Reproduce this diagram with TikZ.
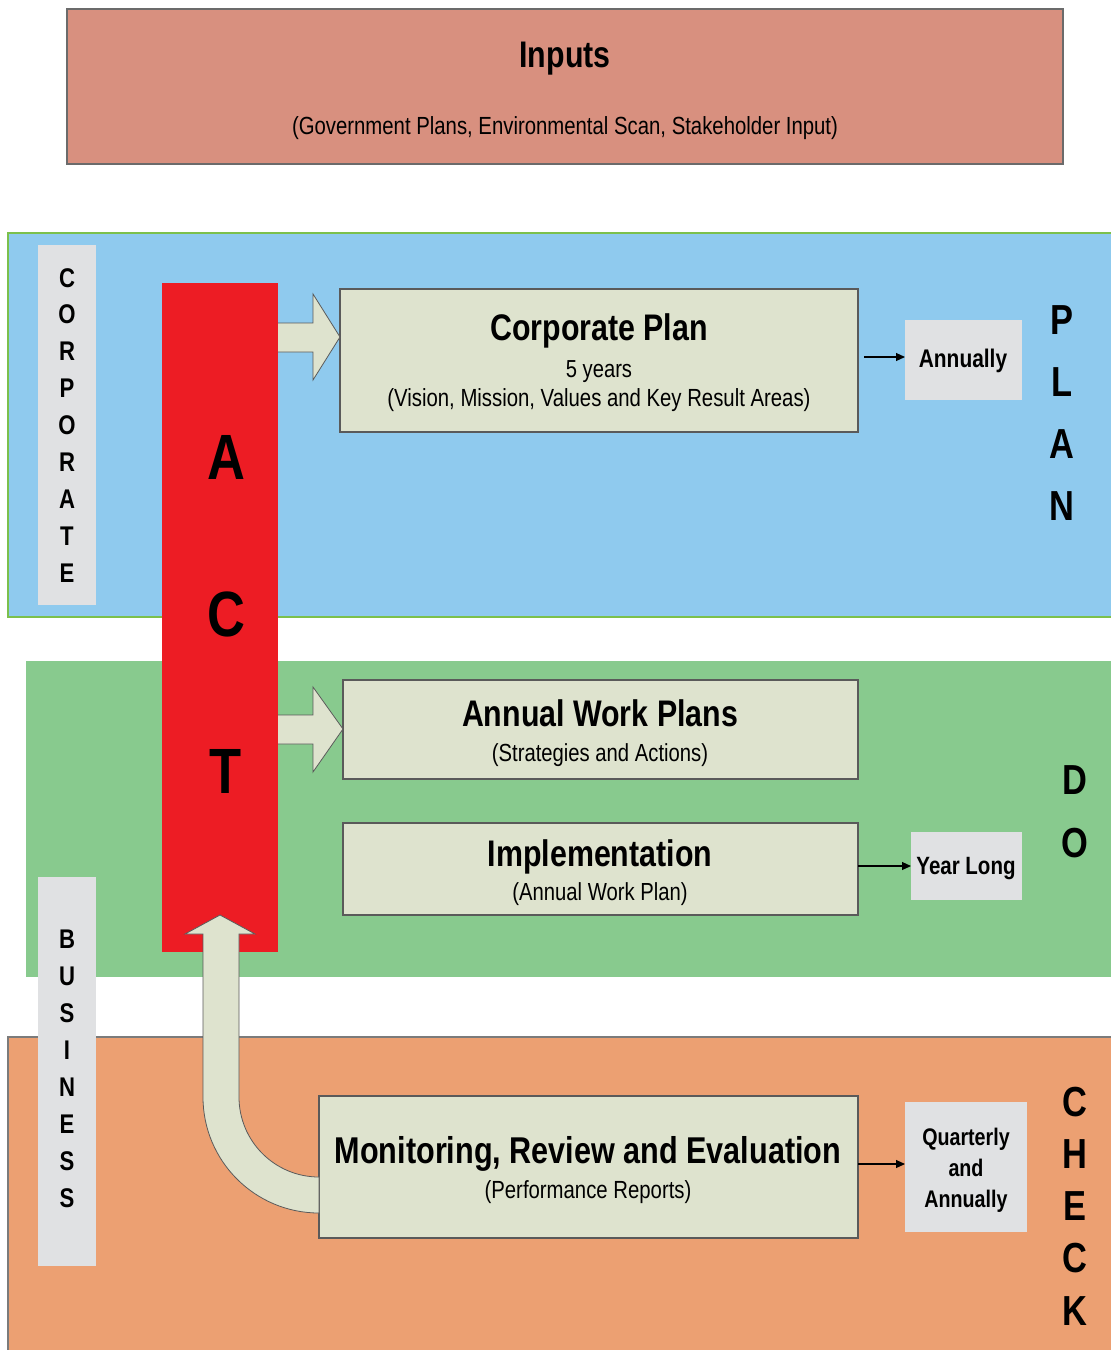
\documentclass[tikz,border=0pt]{standalone}
\usepackage{fontspec}
\setmainfont{Liberation Sans}
\newfontfamily\nf[FakeStretch=0.82]{Liberation Sans}
\usetikzlibrary{arrows.meta,calc}
\definecolor{inputc}{HTML}{D8907F}
\definecolor{bluec}{HTML}{8FCAEE}
\definecolor{blueb}{HTML}{7CC04B}
\definecolor{greenc}{HTML}{88CA8E}
\definecolor{orangec}{HTML}{ECA072}
\definecolor{redc}{HTML}{ED1C24}
\definecolor{boxc}{HTML}{DEE3CE}
\definecolor{grayc}{HTML}{E0E1E3}
\definecolor{edgec}{HTML}{5A5A5A}
\newcommand\myfs[1]{\fontsize{#1}{#1}\selectfont}
\begin{document}
\begin{tikzpicture}[x=1pt,y=-1pt,
  box/.style={draw=edgec, line width=1.2pt, fill=boxc, inner sep=0pt, outer sep=0pt},
  gbox/.style={fill=grayc, inner sep=0pt, outer sep=0pt},
  band/.style={inner sep=0pt, outer sep=0pt},
  txt/.style={inner sep=0pt, anchor=base, font=\nf},
  blk/.style={draw=edgec, line width=0.8pt, fill=boxc, line join=miter},
  conn/.style={draw=black, line width=1.1pt, -{Triangle[length=9pt,width=8pt]}},
  biglet/.style={inner sep=0pt, anchor=base, font=\nf\bfseries\myfs{42}},
  vlet/.style={inner sep=0pt, anchor=base, font=\nf\bfseries\myfs{27}}]
\useasboundingbox (0,0) rectangle (1111,1350);
\fill[white] (0,0) rectangle (1111,1350);

% bands
\node[band, draw=blueb, line width=2.5pt, fill=bluec, minimum width=1120, minimum height=384, anchor=north west] (plan) at (8,233) {};
\node[band, fill=greenc, minimum width=1100, minimum height=316, anchor=north west] (do) at (26,661) {};
\node[band, draw=edgec!80, line width=1.2pt, fill=orangec, minimum width=1120, minimum height=330, anchor=north west] (check) at (8,1037) {};

% inputs
\node[band, draw=edgec!90, line width=1.2pt, fill=inputc, minimum width=996, minimum height=155, anchor=north west] (inp) at (67,9) {};
\node[txt, font=\nf\bfseries\myfs{37}] (inpt) at (565,67) {Inputs};
\node[txt, font=\nf\myfs{24.8}] (inps) at (565,134) {(Government Plans, Environmental Scan, Stakeholder Input)};

% side labels
\node[gbox, minimum width=58, minimum height=360, anchor=north west] (corp) at (38,245) {};
\foreach \l [count=\i from 0] in {C,O,R,P,O,R,A,T,E}
  \node[vlet] (corp\i) at (67,287+36.9*\i) {\l};
\node[gbox, minimum width=58, minimum height=389, anchor=north west] (bus) at (38,877) {};
\foreach \l [count=\i from 0] in {B,U,S,I,N,E,S,S}
  \node[vlet] (bus\i) at (67,948+37*\i) {\l};

% ACT
\node[band, fill=redc, minimum width=116, minimum height=669, anchor=north west] (act) at (162,283) {};
\node[biglet, font=\nf\bfseries\myfs{64}] (actA) at (226,479) {A};
\node[biglet, font=\nf\bfseries\myfs{64}] (actC) at (226,636) {C};
\node[biglet, font=\nf\bfseries\myfs{64}] (actT) at (226,793) {T};

% boxes
\node[box, minimum width=518, minimum height=143, anchor=north west] (cp) at (340,289) {};
\node[txt, font=\nf\bfseries\myfs{37}] (cpt) at (599,340) {Corporate Plan};
\node[txt, font=\nf\myfs{24.6}] (cpy) at (599,377) {5 years};
\node[txt, font=\nf\myfs{24.8}] (cpv) at (599,406) {(Vision, Mission, Values and Key Result Areas)};

\node[box, minimum width=515, minimum height=99, anchor=north west] (awp) at (343,680) {};
\node[txt, font=\nf\bfseries\myfs{37}] (awpt) at (600,726) {Annual Work Plans};
\node[txt, font=\nf\myfs{24.7}] (awps) at (600,761) {(Strategies and Actions)};

\node[box, minimum width=515, minimum height=92, anchor=north west] (imp) at (343,823) {};
\node[txt, font=\nf\bfseries\myfs{37}] (impt) at (600,866) {Implementation};
\node[txt, font=\nf\myfs{24.7}] (imps) at (600,900) {(Annual Work Plan)};

\node[box, minimum width=539, minimum height=142, anchor=north west] (mre) at (319,1096) {};
\node[txt, font=\nf\bfseries\myfs{37.3}] (mret) at (588,1163) {Monitoring, Review and Evaluation};
\node[txt, font=\nf\myfs{24.8}] (mres) at (588,1198) {(Performance Reports)};

% frequency boxes
\node[gbox, minimum width=117, minimum height=80, anchor=north west] (ann) at (905,320) {};
\node[txt, font=\nf\bfseries\myfs{25.5}] (annt) at (963,367) {Annually};
\node[gbox, minimum width=111, minimum height=68, anchor=north west] (yl) at (911,832) {};
\node[txt, font=\nf\bfseries\myfs{25}] (ylt) at (966,874) {Year Long};
\node[gbox, minimum width=122, minimum height=130, anchor=north west] (qa) at (905,1102) {};
\node[txt, font=\nf\bfseries\myfs{24}] (qa1) at (966,1145) {Quarterly};
\node[txt, font=\nf\bfseries\myfs{24}] (qa2) at (966,1176) {and};
\node[txt, font=\nf\bfseries\myfs{24}] (qa3) at (966,1207) {Annually};

% connectors
\draw[conn] ($(cp.east |- 0,357)+(6,0)$) -- (ann.west |- 0,357);
\draw[conn] (imp.east |- 0,866) -- (yl.west |- 0,866);
\draw[conn] (mre.east |- 0,1164) -- (qa.west |- 0,1164);

% block arrows from ACT
\draw[blk] (act.east |- 0,323) -- (313,323) -- (313,294) -- (cp.west |- 0,337) -- (313,380) -- (313,352) -- (act.east |- 0,352);
\draw[blk] (act.east |- 0,715) -- (313,715) -- (313,687) -- (awp.west |- 0,729) -- (313,772) -- (313,744) -- (act.east |- 0,744);

% curved arrow from monitoring back to ACT
\draw[blk] (mre.west |- 0,1213) arc[start angle=90, end angle=180, radius=116] -- (203,934) -- (185,934) -- (act.south |- 0,915) -- (255,934) -- (239,934) -- (239,1097) arc[start angle=180, end angle=90, radius=80] -- cycle;

% PDCA letters
\foreach \l [count=\i from 0] in {P,L,A,N}
  \node[biglet] (plan\i) at (1062,334+62*\i) {\l};
\foreach \l [count=\i from 0] in {D,O}
  \node[biglet] (do\i) at (1075,794+63*\i) {\l};
\foreach \l [count=\i from 0] in {C,H,E,C,K}
  \node[biglet] (chk\i) at (1075,1116+52.3*\i) {\l};
\end{tikzpicture}
\end{document}
